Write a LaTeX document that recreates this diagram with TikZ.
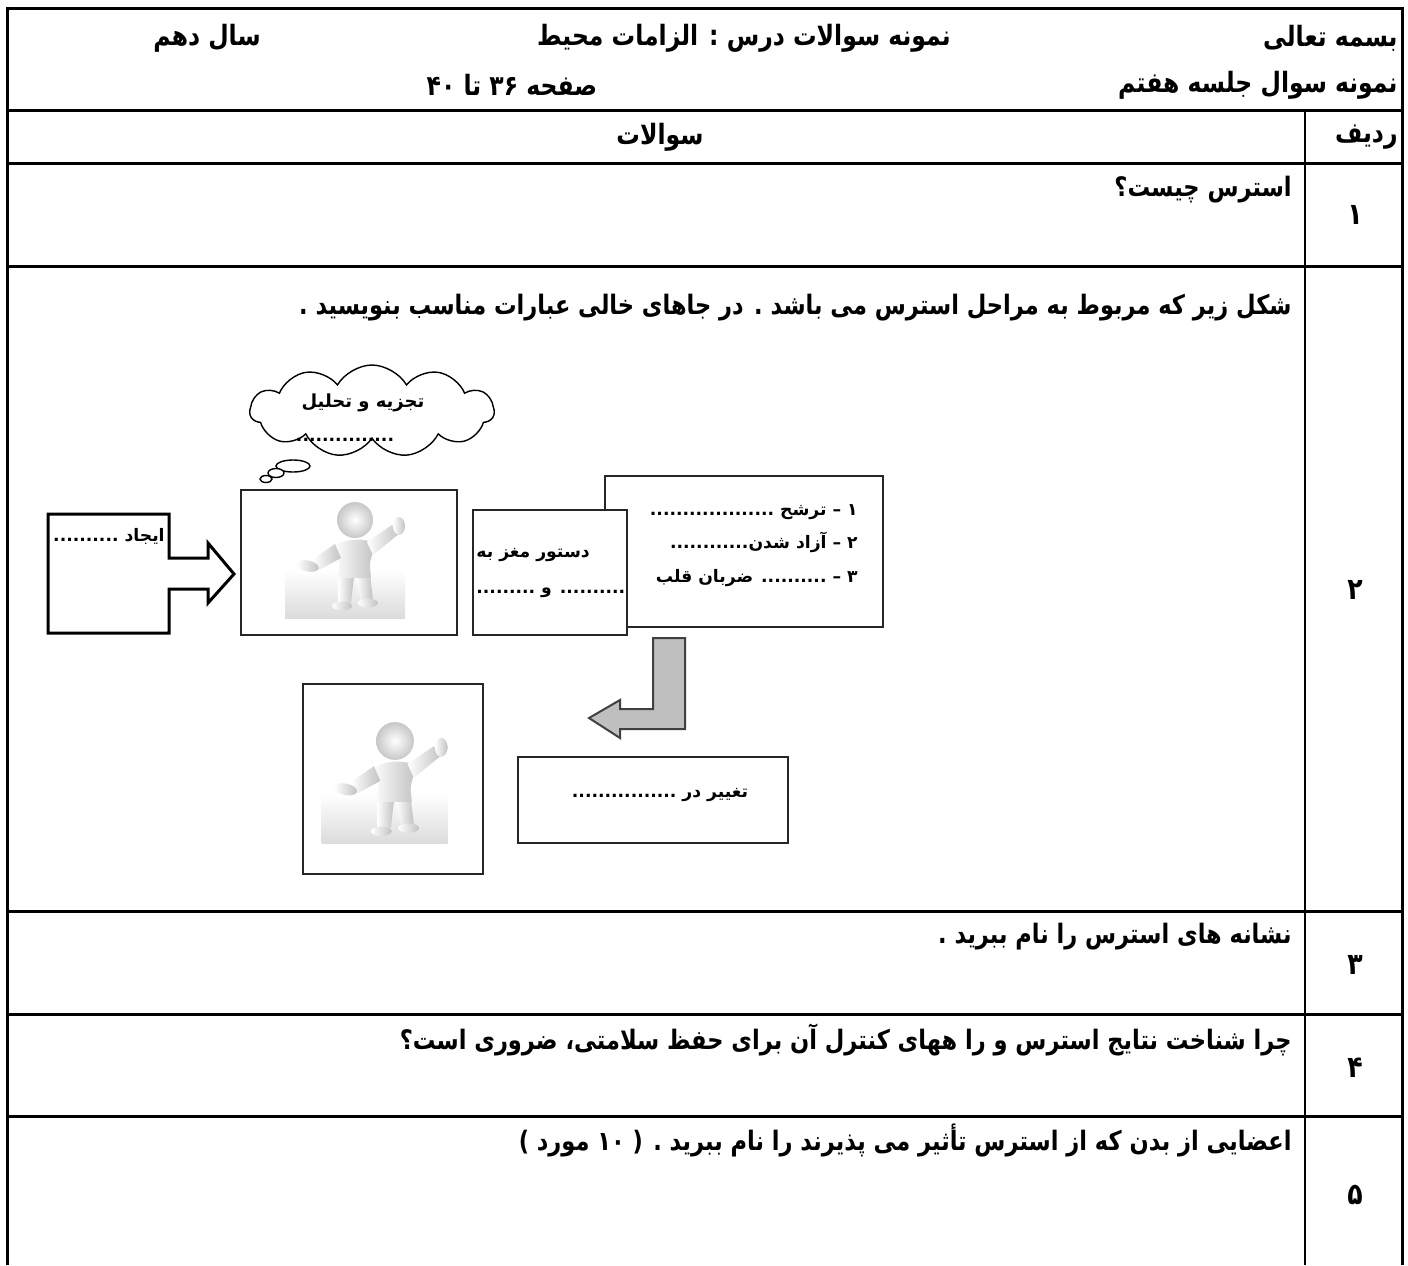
\documentclass[tikz,border=0pt]{standalone}
\usepackage{fontspec}
\usetikzlibrary{shapes.symbols}
\TeXXeTstate=1
\newfontfamily\fadg[Script=Arabic]{DejaVu Sans}
\newfontfamily\faq[Script=Arabic,FakeStretch=0.84]{DejaVu Sans}
\newcommand\rtltext[1]{\beginR #1\endR}
\tikzset{
  tline/.style={line width=1.5pt},
  hd/.style={font=\faq\bfseries\fontsize{14}{16}\selectfont, inner sep=0pt},
  qtext/.style={font=\faq\bfseries\fontsize{13.4}{16}\selectfont, anchor=east, inner sep=0pt},
  num/.style={font=\faq\bfseries\fontsize{15}{16}\selectfont, inner sep=0pt},
  dg/.style={font=\fadg\bfseries\fontsize{8.6}{10}\selectfont, inner sep=0pt},
  boxline/.style={draw=black!85, line width=1pt, fill=white},
  limb/.style={left color=white, right color=black!24},
  person/.pic={
    \shade[top color=white, bottom color=black!14] (-70,50) rectangle (50,98);
    % legs
    \shade[limb] (-17,54) -- (-1,57) -- (-4,83) -- (-17,84) -- cycle;
    \shade[limb] (1,57) -- (15,54) -- (18,80) -- (6,82) -- cycle;
    \shade[limb] (-13,86) ellipse [x radius=10, y radius=4.5];
    \shade[limb] (13,83) ellipse [x radius=10, y radius=4.5];
    % torso
    \shade[limb]
      (-22,27) .. controls (-10,18) and (8,18) .. (20,23) .. controls (18,34) and (14,42) .. (15,48)
      -- (16,58) -- (-17,58) -- (-16,48) .. controls (-15,40) and (-18,34) .. cycle;
    % arms
    \shade[limb] (12,22) -- (37,5) -- (45,13) -- (18,35) -- cycle;
    \shade[limb] (-20,24) -- (-42,39) -- (-36,50) -- (-14,38) -- cycle;
    \shade[limb] (44,6) ellipse [x radius=6, y radius=9];
    \shade[limb, rotate around={-12:(-47,46)}] (-47,46) ellipse [x radius=11, y radius=5.5];
    % head
    \shade[inner color=white, outer color=black!22] (0,0) circle [radius=18];
  }
}
\begin{document}
\begin{tikzpicture}[x=0.5pt, y=-0.5pt]
\useasboundingbox (0,0) rectangle (1408,1265);
% ---------- table ----------
\draw[tline] (7,1265) -- (7,8) -- (1402,8) -- (1402,1265);
\foreach \yy in {110,163,266,911,1014,1116} \draw[tline] (7,\yy) -- (1402,\yy);
\draw[line width=1.2pt] (1305,110) -- (1305,1265);
% header
\node[hd, anchor=east] (h1) at (1398,38) {\rtltext{بسمه تعالی}};
\node[hd, anchor=east] (h2) at (1398,85) {\rtltext{نمونه سوال  جلسه  هفتم}};
\node[hd] (h3) at (744,38) {\rtltext{نمونه سوالات درس :  الزامات محیط}};
\node[hd] (h4) at (512,85) {\rtltext{صفحه ۳۶ تا ۴۰}};
\node[hd] (h5) at (207,38) {\rtltext{سال دهم}};
\node[hd] (h6) at (660,137) {\rtltext{سوالات}};
\node[hd, anchor=east] (h7) at (1398,137) {\rtltext{ردیف}};
% questions
\node[qtext] (q1) at (1292,190) {\rtltext{استرس چیست؟}};
\node[qtext] (q2) at (1292,308) {\rtltext{شکل زیر که مربوط به مراحل استرس می باشد . در جاهای خالی عبارات مناسب بنویسید .}};
\node[qtext] (q3) at (1292,937) {\rtltext{نشانه های استرس را نام ببرید .}};
\node[qtext] (q4) at (1292,1040) {\rtltext{چرا شناخت نتایج استرس و را ههای کنترل آن برای حفظ سلامتی، ضروری است؟}};
\node[qtext] (q5) at (1292,1140) {\rtltext{اعضایی از بدن که از استرس تأثیر می پذیرند را نام ببرید . ( ۱۰ مورد )}};
\node[num] (n1) at (1355,215) {۱};
\node[num] (n2) at (1355,590) {۲};
\node[num] (n3) at (1355,965) {۳};
\node[num] (n4) at (1355,1068) {۴};
\node[num] (n5) at (1355,1195) {۵};
% ---------- diagram ----------
% stress source arrow
\draw[line width=1.5pt, line join=miter] (48,514) -- (169,514) -- (169,558) -- (208,558) -- (208,543) -- (234,574)
  -- (208,603) -- (208,589) -- (169,589) -- (169,633) -- (48,633) -- cycle;
\node[dg, anchor=east] (t1) at (165,536) {\rtltext{ایجاد ..........}};
% thought cloud
\node[cloud, draw, line width=0.7pt, cloud puffs=11, cloud puff arc=120, aspect=2.3,
  minimum width=122pt, minimum height=46pt, inner sep=0pt] (cl) at (372,411) {};
\node[dg, font=\fadg\bfseries\fontsize{9}{10}\selectfont] (t2) at (363,403) {\rtltext{تجزیه و تحلیل}};
\node[dg] (t3) at (345,440) {...............};
\draw[line width=0.7pt, fill=white] (293,466) ellipse [x radius=17, y radius=6];
\draw[line width=0.7pt, fill=white] (276,473) ellipse [x radius=8, y radius=4.5];
\draw[line width=0.7pt, fill=white] (266,479) ellipse [x radius=6, y radius=3.5];
% person 1
\draw[boxline] (241,490) rectangle (457,635);
\pic at (355,520) {person};
% hormone box (behind)
\draw[boxline] (605,476) rectangle (883,627);
\node[dg, anchor=east] (t4) at (858,512) {\rtltext{۱ – ترشح ...................}};
\node[dg, anchor=east] (t5) at (858,542) {\rtltext{۲ – آزاد شدن............}};
\node[dg, anchor=east] (t6) at (858,578) {\rtltext{۳ – .......... ضربان قلب}};
% brain command box
\draw[boxline] (473,510) rectangle (627,635);
\node[dg, anchor=west] (t7) at (476,555) {\rtltext{دستور مغز به}};
\node[dg, anchor=west] (t8) at (476,593) {\rtltext{.......... و .........}};
% gray L arrow
\draw[draw=black!75, line width=1pt, fill=black!25, line join=miter]
  (653,638) -- (685,638) -- (685,729) -- (620,729) -- (620,738) -- (589,718) -- (620,700) -- (620,709) -- (653,709) -- cycle;
% change box
\draw[boxline] (518,757) rectangle (788,843);
\node[dg] (t9) at (660,795) {\rtltext{تغییر در ................}};
% person 2
\draw[boxline] (303,684) rectangle (483,874);
\pic[scale=1.05] at (395,741) {person};
\end{tikzpicture}
\end{document}
